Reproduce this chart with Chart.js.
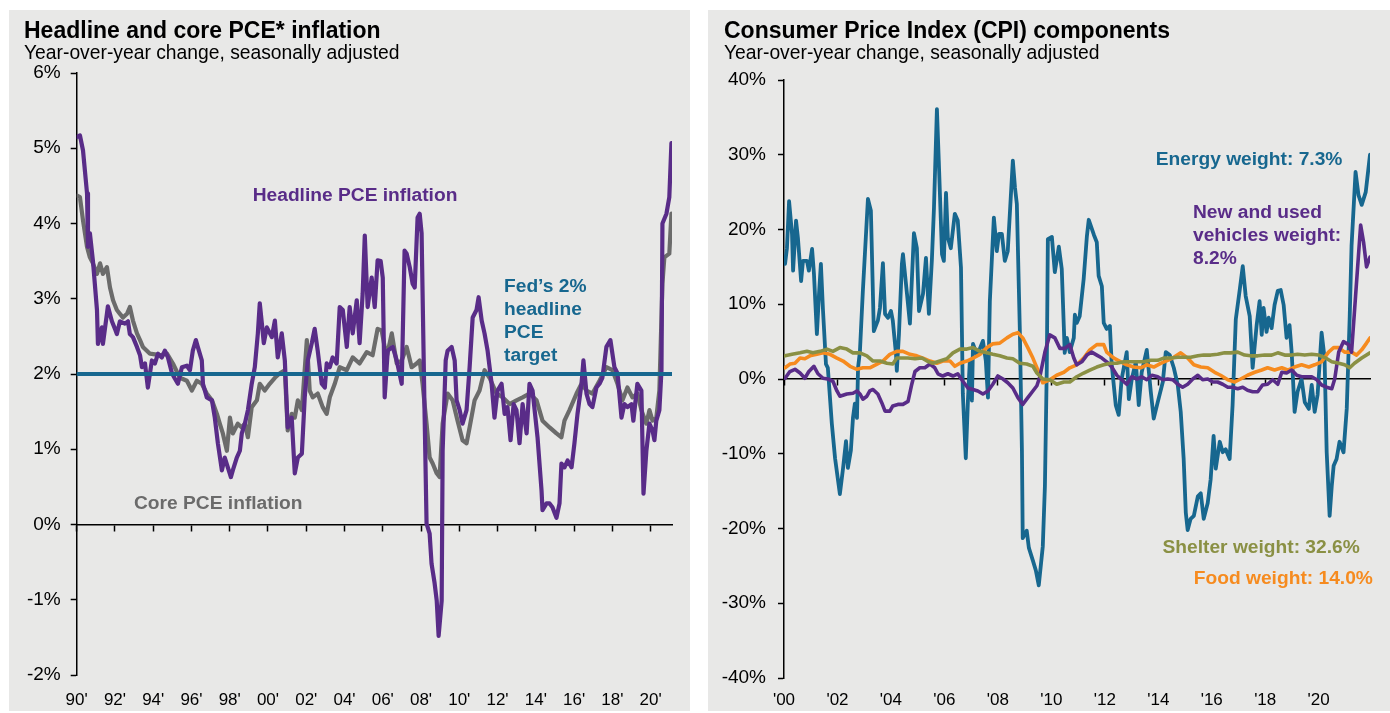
<!DOCTYPE html>
<html><head><meta charset="utf-8">
<script src="https://cdn.jsdelivr.net/npm/chart.js@4.4.1/dist/chart.umd.min.js"></script>
<style>
html,body{margin:0;padding:0;background:#fff;width:1390px;height:713px;overflow:hidden;font-family:"Liberation Sans",Arial,sans-serif;}
.panel{position:absolute;background:#e8e8e7;}
#p1{left:9px;top:10px;width:681px;height:701px;}
#p2{left:708px;top:10px;width:682px;height:701px;}
canvas{position:absolute;left:0;top:0;}
.t{position:absolute;white-space:nowrap;line-height:1;}
.title{font-weight:bold;font-size:23px;color:#000;top:8.5px;}
.sub{font-size:19.3px;color:#000;top:32.7px;}
.ann{font-weight:bold;font-size:19.2px;line-height:23px;}
</style></head>
<body>
<div class="panel" id="p1">
  <canvas id="c1" width="681" height="701"></canvas>
  <div class="t title" style="left:15px;">Headline and core PCE* inflation</div>
  <div class="t sub" style="left:15px;">Year-over-year change, seasonally adjusted</div>
  <div class="t ann" style="left:243.7px;top:172.8px;color:#592c88;">Headline PCE inflation</div>
  <div class="t ann" style="left:125px;top:480.8px;color:#6b6b6b;">Core PCE inflation</div>
  <div class="t ann" style="left:495px;top:264.3px;color:#17678f;">Fed’s 2%<br>headline<br>PCE<br>target</div>
</div>
<div class="panel" id="p2">
  <canvas id="c2" width="682" height="701"></canvas>
  <div class="t title" style="left:16px;">Consumer Price Index (CPI) components</div>
  <div class="t sub" style="left:16px;">Year-over-year change, seasonally adjusted</div>
  <div class="t ann" style="left:447.8px;top:137.3px;color:#17678f;">Energy weight: 7.3%</div>
  <div class="t ann" style="left:485px;top:190.3px;color:#592c88;">New and used<br>vehicles weight:<br>8.2%</div>
  <div class="t ann" style="left:454.5px;top:525.3px;color:#8a9044;">Shelter weight: 32.6%</div>
  <div class="t ann" style="left:485.8px;top:556.3px;color:#f68b1f;">Food weight: 14.0%</div>
</div>
<script>
// ---------- Left chart: PCE inflation (decimal years, % y/y) ----------
const headlineDates = [
1990.02,1990.17,1990.33,1990.54,1990.59,1990.69,1990.85,1991.06,1991.11,1991.32,
1991.37,1991.58,1991.63,1991.84,1992.00,1992.10,1992.26,1992.52,1992.68,1992.78,
1992.94,1993.15,1993.31,1993.41,1993.57,1993.72,1993.93,1994.09,1994.25,1994.45,
1994.61,1994.77,1994.98,1995.13,1995.29,1995.50,1995.76,1995.92,1996.07,1996.23,
1996.33,1996.54,1996.60,1996.80,1997.07,1997.22,1997.38,1997.59,1997.74,1997.90,
1998.06,1998.16,1998.37,1998.53,1998.63,1998.79,1998.95,1999.15,1999.31,1999.47,
1999.57,1999.68,1999.78,1999.94,2000.20,2000.36,2000.51,2000.72,2000.88,2001.03,
2001.24,2001.40,2001.56,2001.77,2001.92,2002.08,2002.29,2002.44,2002.60,2002.81,
2002.97,2003.07,2003.23,2003.38,2003.59,2003.75,2003.91,2004.12,2004.27,2004.43,
2004.64,2004.79,2004.95,2005.06,2005.21,2005.42,2005.58,2005.73,2005.89,2006.00,
2006.10,2006.26,2006.52,2006.73,2006.99,2007.14,2007.25,2007.41,2007.56,2007.67,
2007.82,2007.93,2008.03,2008.08,2008.19,2008.29,2008.45,2008.55,2008.71,2008.82,
2008.92,2009.08,2009.13,2009.29,2009.39,2009.60,2009.76,2009.86,2010.02,2010.17,
2010.38,2010.54,2010.70,2010.90,2011.01,2011.17,2011.32,2011.48,2011.69,2011.84,
2012.00,2012.21,2012.37,2012.52,2012.68,2012.84,2012.99,2013.15,2013.31,2013.52,
2013.67,2013.83,2014.09,2014.30,2014.35,2014.56,2014.72,2014.87,2015.08,2015.24,
2015.34,2015.50,2015.66,2015.87,2016.02,2016.18,2016.39,2016.49,2016.65,2016.81,
2016.96,2017.17,2017.33,2017.48,2017.69,2017.90,2018.11,2018.27,2018.48,2018.63,
2018.79,2019.00,2019.10,2019.31,2019.52,2019.63,2019.78,2019.94,2020.10,2020.20,
2020.30,2020.46,2020.57,2020.62,2020.83,2020.98,2021.09];
const headlineValues = [
5.15,5.17,4.97,4.40,3.69,3.87,3.50,2.85,2.40,2.62,
2.40,2.80,2.90,2.70,2.60,2.53,2.70,2.67,2.70,2.53,
2.49,2.36,2.25,2.09,2.14,1.82,2.18,2.14,2.27,2.22,
2.31,2.22,2.01,1.94,1.87,2.09,2.11,2.05,2.31,2.45,
2.36,2.18,1.87,1.69,1.65,1.42,1.08,0.72,0.89,0.76,
0.63,0.72,0.89,0.98,1.21,1.34,1.52,1.87,2.09,2.54,
2.94,2.67,2.41,2.62,2.49,2.71,2.22,2.54,2.18,1.29,
1.42,0.68,0.89,0.94,1.69,2.18,2.41,2.60,2.31,1.87,
1.82,2.14,2.09,2.22,2.14,2.89,2.85,2.36,2.89,2.54,
2.98,2.41,3.07,3.84,2.89,3.28,2.89,3.51,3.50,3.28,
1.69,2.31,2.36,2.18,1.87,3.64,3.60,3.42,3.20,3.15,
4.08,4.13,3.87,3.10,1.42,0.01,-0.12,-0.52,-0.78,-1.01,
-1.48,-1.01,0.98,2.18,2.31,2.36,2.18,1.65,1.52,1.34,
1.52,2.09,2.75,2.85,3.02,2.71,2.54,2.31,1.87,1.42,
1.78,1.87,1.47,1.56,1.12,1.60,1.52,1.08,1.60,1.21,
1.87,1.78,1.16,0.45,0.19,0.28,0.28,0.23,0.09,0.28,
0.81,0.76,0.85,0.76,1.08,1.47,1.87,2.18,1.74,1.60,
1.56,1.82,1.87,1.95,2.36,2.45,2.09,2.01,1.42,1.60,
1.56,1.60,1.38,1.87,1.78,0.41,0.98,1.34,1.25,1.12,
1.38,1.52,2.05,4.00,4.13,4.35,5.07];

const coreDates = [
1990.02,1990.17,1990.33,1990.54,1990.69,1990.85,1991.06,1991.22,1991.37,1991.58,
1991.74,1991.90,1992.10,1992.26,1992.42,1992.63,1992.78,1992.94,1993.15,1993.31,
1993.46,1993.83,1994.35,1994.72,1995.03,1995.39,1995.76,1996.02,1996.28,1996.54,
1996.80,1997.07,1997.33,1997.48,1997.64,1997.85,1998.01,1998.16,1998.42,1998.63,
1998.79,1998.95,1999.15,1999.42,1999.57,1999.83,2000.09,2000.36,2000.62,2000.88,
2001.03,2001.24,2001.40,2001.56,2001.77,2002.03,2002.18,2002.34,2002.60,2002.86,
2003.07,2003.23,2003.49,2003.75,2004.12,2004.43,2004.79,2005.16,2005.47,2005.73,
2005.94,2006.20,2006.47,2006.73,2006.99,2007.25,2007.51,2007.77,2007.93,2008.08,
2008.29,2008.45,2008.61,2008.82,2008.97,2009.13,2009.39,2009.65,2009.91,2010.17,
2010.38,2010.54,2010.80,2011.06,2011.32,2011.58,2011.95,2012.26,2012.63,2012.99,
2013.31,2013.67,2014.04,2014.35,2014.72,2015.08,2015.34,2015.50,2015.76,2016.13,
2016.39,2016.65,2016.96,2017.33,2017.69,2018.01,2018.27,2018.53,2018.79,2019.05,
2019.31,2019.52,2019.78,2019.94,2020.10,2020.30,2020.46,2020.62,2020.72,2020.98,
2021.09];
const coreValues = [
4.37,4.35,4.04,3.69,3.55,3.47,3.33,3.47,3.33,3.42,
3.15,2.98,2.85,2.80,2.75,2.80,2.89,2.71,2.54,2.45,
2.36,2.27,2.25,2.27,2.14,1.95,1.91,1.78,1.91,1.87,
1.74,1.65,1.47,1.34,1.21,0.98,1.42,1.21,1.34,1.29,
1.34,1.16,1.56,1.65,1.87,1.78,1.87,1.95,2.01,2.05,
1.25,1.47,1.42,1.65,1.52,2.45,1.78,1.69,1.74,1.56,
1.47,1.69,1.87,2.09,2.05,2.22,2.14,2.29,2.25,2.60,
2.58,2.22,2.54,2.14,2.18,2.36,2.09,2.14,2.18,1.87,
1.34,0.89,0.81,0.68,0.63,1.34,1.74,1.65,1.38,1.12,
1.08,1.29,1.65,1.78,2.05,1.95,1.74,1.69,1.60,1.65,
1.69,1.74,1.65,1.38,1.29,1.21,1.16,1.38,1.52,1.74,
1.87,1.78,1.74,1.91,2.09,2.05,1.87,1.65,1.82,1.69,
1.74,1.52,1.34,1.52,1.38,1.42,1.78,3.20,3.55,3.60,
4.13];

const fedTargetDates = [1990, 2021.12];
const fedTargetValues = [2, 2];
const pceTicks = [-2, 6, 1];   // min, max, step (%)

// ---------- Right chart: CPI components (decimal years, % y/y) ----------
const energyDates = [
2000.04,2000.11,2000.19,2000.30,2000.34,2000.45,2000.52,2000.64,2000.71,2000.86,
2000.93,2001.05,2001.12,2001.23,2001.31,2001.38,2001.46,2001.57,2001.64,2001.79,
2001.91,2002.09,2002.21,2002.32,2002.39,2002.50,2002.58,2002.65,2002.73,2002.77,
2002.84,2002.95,2003.14,2003.25,2003.36,2003.51,2003.59,2003.70,2003.78,2003.89,
2004.00,2004.07,2004.19,2004.22,2004.30,2004.41,2004.45,2004.60,2004.71,2004.86,
2004.97,2005.05,2005.20,2005.31,2005.42,2005.53,2005.61,2005.72,2005.79,2005.91,
2005.98,2006.06,2006.13,2006.24,2006.39,2006.50,2006.62,2006.69,2006.80,2006.88,
2006.95,2007.03,2007.07,2007.21,2007.33,2007.44,2007.55,2007.63,2007.70,2007.85,
2007.96,2008.04,2008.15,2008.26,2008.37,2008.49,2008.56,2008.64,2008.71,2008.82,
2008.90,2008.93,2009.08,2009.16,2009.31,2009.42,2009.53,2009.68,2009.76,2009.83,
2009.87,2010.02,2010.13,2010.28,2010.39,2010.47,2010.50,2010.58,2010.69,2010.84,
2010.88,2010.95,2011.06,2011.21,2011.33,2011.40,2011.59,2011.70,2011.77,2011.89,
2011.96,2012.07,2012.19,2012.26,2012.41,2012.52,2012.63,2012.82,2012.90,2013.01,
2013.16,2013.27,2013.38,2013.57,2013.72,2013.83,2013.98,2014.17,2014.28,2014.43,
2014.58,2014.73,2014.84,2014.95,2015.03,2015.10,2015.21,2015.33,2015.48,2015.59,
2015.70,2015.85,2015.96,2016.07,2016.15,2016.30,2016.41,2016.52,2016.67,2016.78,
2016.90,2017.05,2017.16,2017.27,2017.42,2017.53,2017.68,2017.79,2017.87,2017.94,
2018.05,2018.13,2018.24,2018.35,2018.47,2018.58,2018.69,2018.80,2018.91,2018.99,
2019.10,2019.21,2019.36,2019.48,2019.63,2019.74,2019.85,2019.96,2020.11,2020.22,
2020.30,2020.41,2020.49,2020.56,2020.67,2020.78,2020.93,2021.05,2021.16,2021.23,
2021.38,2021.49,2021.61,2021.76,2021.92];
const energyValues = [
15.4,17.5,23.8,19.4,14.5,21.2,18.9,13.1,15.8,15.8,
14.5,17.4,14.1,6.0,11.4,15.4,9.1,2.0,1.5,-6.0,
-10.6,-15.4,-11.9,-8.3,-11.9,-9.6,-5.2,-3.3,-5.2,1.5,
3.7,11.8,24.1,22.5,6.4,7.8,9.5,15.5,8.7,8.2,
9.1,7.8,3.3,1.1,6.0,15.4,16.7,11.4,7.4,19.5,
17.5,9.1,11.4,16.2,8.7,15.8,22.9,36.1,29.2,16.7,
15.8,24.9,18.9,17.5,22.1,21.2,14.9,-2.0,-10.6,-2.9,
2.4,-2.9,4.7,3.3,4.1,5.1,2.4,-2.5,10.4,21.6,
17.1,19.4,19.4,15.8,17.1,24.8,29.2,25.6,23.4,6.8,
-9.6,-21.3,-20.3,-22.6,-24.3,-25.6,-27.6,-22.4,-14.3,1.5,
18.7,19.0,14.3,17.7,14.7,6.7,3.5,5.5,3.6,5.5,
8.6,7.5,8.4,13.4,19.1,21.3,19.3,18.3,13.8,12.4,
7.5,6.7,7.1,1.9,-3.5,-4.8,0.0,3.6,-2.7,0.0,
2.3,-3.5,0.9,3.9,-1.7,-5.3,-3.1,-0.4,3.6,3.2,
1.5,-0.8,-4.4,-10.7,-17.9,-20.2,-18.7,-18.3,-15.7,-15.3,
-18.7,-16.6,-13.4,-7.6,-12.0,-8.4,-9.8,-9.4,-10.7,-3.5,
8.0,12.0,15.1,11.1,8.4,1.5,7.2,10.4,5.9,9.5,
6.3,8.2,6.8,9.9,11.8,11.9,9.9,5.5,7.2,3.6,
-4.4,-1.7,0.0,-3.1,-4.0,-0.8,-4.4,-2.1,6.2,2.8,
-9.8,-18.3,-14.3,-11.6,-10.7,-8.4,-9.8,-4.0,8.2,17.8,
27.7,24.6,23.3,25.0,30.0];

const vehicleDates = [
2000.04,2000.22,2000.41,2000.60,2000.78,2000.93,2001.12,2001.27,2001.46,2001.64,
2001.83,2001.98,2002.09,2002.35,2002.58,2002.73,2002.84,2002.95,2003.10,2003.21,
2003.33,2003.51,2003.66,2003.78,2003.96,2004.07,2004.26,2004.45,2004.64,2004.78,
2004.90,2005.08,2005.27,2005.46,2005.64,2005.76,2005.94,2006.13,2006.32,2006.50,
2006.69,2006.88,2007.07,2007.25,2007.44,2007.63,2007.81,2008.00,2008.19,2008.37,
2008.56,2008.75,2008.93,2009.12,2009.31,2009.46,2009.57,2009.76,2009.94,2010.13,
2010.32,2010.50,2010.69,2010.84,2010.95,2011.14,2011.33,2011.51,2011.70,2011.89,
2012.07,2012.26,2012.45,2012.63,2012.82,2013.01,2013.20,2013.38,2013.57,2013.76,
2013.98,2014.17,2014.35,2014.54,2014.73,2014.91,2015.10,2015.29,2015.48,2015.66,
2015.85,2016.04,2016.22,2016.41,2016.60,2016.78,2016.97,2017.16,2017.34,2017.53,
2017.72,2017.90,2018.09,2018.28,2018.47,2018.62,2018.80,2018.99,2019.18,2019.36,
2019.55,2019.74,2019.93,2020.11,2020.30,2020.49,2020.60,2020.75,2020.93,2021.12,
2021.23,2021.38,2021.57,2021.68,2021.79,2021.92];
const vehicleValues = [
0.1,1.0,1.3,0.8,0.1,1.0,1.7,0.7,0.1,0.0,
-0.3,-1.6,-2.3,-2.0,-1.9,-1.6,-2.0,-2.7,-2.3,-1.6,
-1.4,-2.0,-3.2,-4.3,-4.3,-3.6,-3.4,-3.4,-3.0,-0.7,
1.0,1.5,1.5,2.0,1.5,0.7,0.4,0.7,0.4,0.7,
-0.3,-1.2,-1.4,-1.6,-2.0,-1.6,-0.7,0.4,0.0,-0.5,
-1.2,-2.5,-3.4,-2.5,-1.6,-0.9,0.3,3.6,5.9,5.5,
4.1,4.1,4.6,2.8,1.9,2.3,3.2,3.6,3.2,2.8,
2.3,1.6,0.5,-0.1,-0.7,0.3,0.0,0.3,-0.1,0.5,
0.3,-0.1,0.0,-0.1,-0.7,-1.1,-0.7,0.0,0.5,-0.1,
0.0,-0.4,-0.4,-0.7,-1.1,-1.1,-1.3,-1.1,-1.5,-1.7,
-1.7,-0.8,-0.7,-0.1,-0.7,0.9,0.8,1.2,0.5,0.3,
0.3,0.3,-0.1,-0.8,-1.1,-1.3,0.0,3.6,5.0,4.6,
3.6,11.1,20.6,18.3,15.0,16.3];

const shelterDates = [
2000.04,2000.30,2000.60,2000.86,2001.08,2001.35,2001.61,2001.83,2002.09,2002.35,
2002.58,2002.84,2003.10,2003.33,2003.59,2003.85,2004.07,2004.22,2004.41,2004.64,
2004.90,2005.16,2005.35,2005.57,2005.83,2006.09,2006.32,2006.58,2006.84,2007.07,
2007.33,2007.59,2007.81,2008.07,2008.34,2008.56,2008.82,2009.08,2009.31,2009.46,
2009.68,2009.94,2010.20,2010.47,2010.69,2010.95,2011.21,2011.44,2011.70,2011.96,
2012.22,2012.45,2012.71,2012.97,2013.20,2013.46,2013.72,2013.98,2014.20,2014.47,
2014.73,2014.95,2015.21,2015.48,2015.70,2015.96,2016.22,2016.48,2016.71,2016.97,
2017.23,2017.46,2017.72,2017.98,2018.24,2018.47,2018.73,2018.99,2019.21,2019.48,
2019.74,2020.00,2020.22,2020.49,2020.75,2020.97,2021.16,2021.34,2021.61,2021.92];
const shelterValues = [
3.1,3.3,3.5,3.7,3.5,3.7,4.0,3.7,4.2,4.0,
3.5,3.5,3.1,2.4,2.4,2.1,2.0,2.8,2.8,2.8,
2.7,2.8,2.4,2.1,2.4,2.7,3.5,4.0,4.0,4.2,
3.7,3.5,3.3,3.1,2.8,2.7,2.1,2.0,1.7,0.8,
0.0,-0.1,-0.7,-0.4,-0.4,0.3,0.8,1.2,1.6,1.9,
2.1,2.1,2.3,2.3,2.3,2.3,2.5,2.5,2.8,2.8,
2.9,2.9,2.9,3.1,3.2,3.2,3.3,3.5,3.5,3.6,
3.2,3.1,3.1,3.2,3.2,3.5,3.2,3.2,3.3,3.2,
3.3,3.2,2.9,2.3,2.1,1.9,1.5,2.1,2.8,3.5];

const foodDates = [
2000.04,2000.22,2000.41,2000.60,2000.78,2000.97,2001.23,2001.46,2001.72,2001.98,
2002.21,2002.47,2002.73,2002.95,2003.21,2003.48,2003.70,2003.96,2004.22,2004.45,
2004.71,2004.97,2005.20,2005.46,2005.72,2005.94,2006.21,2006.39,2006.58,2006.84,
2007.07,2007.33,2007.59,2007.81,2008.07,2008.34,2008.56,2008.75,2008.93,2009.12,
2009.31,2009.46,2009.68,2009.94,2010.20,2010.47,2010.69,2010.95,2011.21,2011.44,
2011.70,2011.96,2012.07,2012.34,2012.60,2012.82,2013.08,2013.34,2013.57,2013.83,
2014.09,2014.35,2014.58,2014.84,2015.10,2015.33,2015.59,2015.85,2016.11,2016.33,
2016.60,2016.86,2017.08,2017.34,2017.61,2017.87,2018.09,2018.35,2018.62,2018.84,
2019.10,2019.36,2019.63,2019.85,2020.11,2020.37,2020.56,2020.75,2020.97,2021.23,
2021.42,2021.61,2021.79,2021.92];
const foodValues = [
1.5,2.0,2.1,2.8,2.7,3.1,3.3,3.5,3.3,2.8,
2.4,1.7,1.3,1.5,1.5,2.0,2.4,3.3,3.7,3.7,
3.3,3.1,2.8,2.4,2.1,2.4,2.4,1.7,2.1,2.4,
2.8,3.3,4.2,4.7,4.8,5.5,6.0,6.2,5.5,4.2,
2.8,1.5,-0.5,-0.1,0.5,0.9,1.5,1.9,2.8,3.9,
4.6,4.6,3.6,2.8,2.3,1.9,1.6,1.5,1.9,1.6,
2.1,2.5,2.9,3.5,2.8,1.9,1.6,1.5,0.9,0.5,
-0.1,-0.4,0.0,0.5,0.9,1.2,1.5,1.2,1.5,1.2,
1.6,1.9,1.6,1.9,2.3,3.6,4.2,4.2,3.6,3.6,
3.2,3.9,4.8,5.5];
const cpiTicks = [-40, 40, 10];  // min, max, step (%)

// ---------- styling ----------
const PURPLE = '#592c88', GREY = '#6b6b6b', BLUE = '#17678f', OLIVE = '#8a9044', ORANGE = '#f68b1f';
const FONT = '"Liberation Sans", Arial, sans-serif';
const pairs = (xs, ys) => xs.map((x, i) => ({x: x, y: ys[i]}));
const line = (label, xs, ys, color, w) => ({
  label: label, data: pairs(xs, ys), borderColor: color, backgroundColor: color,
  borderWidth: w, pointRadius: 0, tension: 0, fill: false,
  borderJoinStyle: 'round', borderCapStyle: 'round', xAxisID: 'x', yAxisID: 'y'
});

function buildChart(canvasId, datasets, xMin, xMax, yTicks, labelFmt, geom) {
  return new Chart(document.getElementById(canvasId), {
    type: 'line',
    data: { datasets: datasets },
    options: {
      responsive: false, animation: false, events: [],
      layout: { padding: { left: 0, right: geom.right, top: geom.top, bottom: 0 } },
      plugins: { legend: { display: false }, tooltip: { enabled: false } },
      scales: {
        x: {
          type: 'linear', axis: 'x', min: xMin, max: xMax, position: { y: 0 },
          ticks: { display: false, stepSize: 2, includeBounds: false },
          grid: { drawOnChartArea: false, drawTicks: true, tickLength: 6, tickWidth: 1.5, tickColor: '#000' },
          border: { display: true, color: '#000', width: 1.5 }
        },
        xl: {
          type: 'linear', axis: 'x', min: xMin, max: xMax, position: 'bottom',
          ticks: { stepSize: 2, includeBounds: false, autoSkip: false, maxRotation: 0,
                   padding: geom.xPad, color: '#000', font: { family: FONT, size: 17 },
                   callback: labelFmt },
          grid: { display: false, drawTicks: false },
          border: { display: false },
          afterFit: s => { s.height = geom.xh; }
        },
        y: {
          type: 'linear', min: yTicks[0], max: yTicks[1], position: 'left',
          ticks: { stepSize: yTicks[2], padding: geom.yPad, color: '#000',
                   font: { family: FONT, size: 19 }, callback: v => v + '%' },
          grid: { drawOnChartArea: false, drawTicks: true, tickLength: 6, tickWidth: 1.5, tickColor: '#000' },
          border: { display: true, color: '#000', width: 1.5 },
          afterFit: s => { s.width = geom.yw; }
        }
      }
    }
  });
}

const two = v => String(Math.round(v) % 100).padStart(2, '0');

buildChart('c1', [
  line('Fed’s 2% headline PCE target', fedTargetDates, fedTargetValues, BLUE, 4),
  line('Headline PCE inflation', headlineDates, headlineValues, PURPLE, 4.2),
  line('Core PCE inflation', coreDates, coreValues, GREY, 4.2)
], 1990, 2021.12, pceTicks, v => two(v) + "'",
  { right: 18, top: 63, yw: 67.7, xh: 36, xPad: 15, yPad: 10 });

buildChart('c2', [
  line('Shelter', shelterDates, shelterValues, OLIVE, 3.6),
  line('New and used vehicles', vehicleDates, vehicleValues, PURPLE, 3.6),
  line('Food', foodDates, foodValues, ORANGE, 3.6),
  line('Energy', energyDates, energyValues, BLUE, 3.8)
], 2000, 2021.92, cpiTicks, v => "'" + two(v),
  { right: 20, top: 70, yw: 76, xh: 33, xPad: 12, yPad: 12 });
</script>
</body></html>
